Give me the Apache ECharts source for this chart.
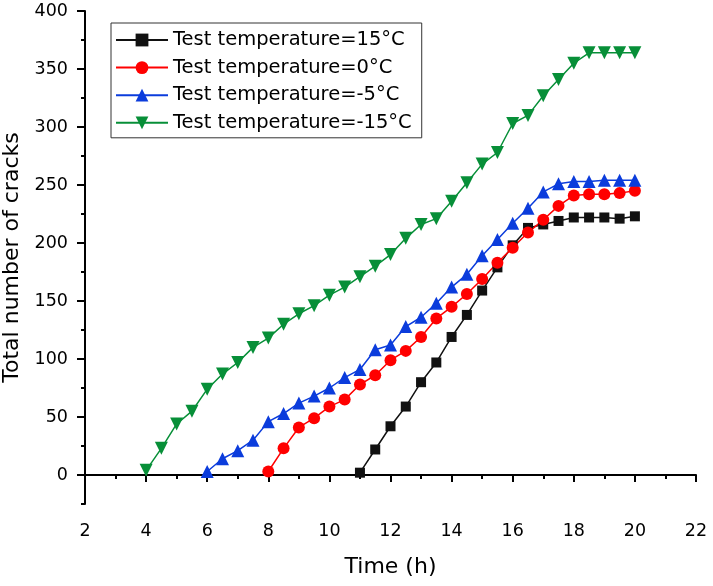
<!DOCTYPE html>
<html>
<head>
<meta charset="utf-8">
<script src="https://cdn.jsdelivr.net/npm/echarts@6/dist/echarts.min.js"></script>
<style>
html, body { margin: 0; padding: 0; background: #fff; }
#main { width: 713px; height: 586px; }
</style>
</head>
<body>
<div id="main"></div>
<script>
// time axis (h), one reading every half hour
var hours = [4, 4.5, 5, 5.5, 6, 6.5, 7, 7.5, 8, 8.5, 9, 9.5, 10, 10.5, 11, 11.5, 12,
	12.5, 13, 13.5, 14, 14.5, 15, 15.5, 16, 16.5, 17, 17.5, 18, 18.5, 19, 19.5, 20];
// crack counts per test temperature (null = not started yet)
var t15 = [null, null, null, null, null, null, null, null, null, null, null, null, null, null,
	2, 22, 42, 59, 80, 97, 119, 138, 159, 179, 198, 213, 216, 219, 222, 222, 222, 221, 223];
var t0 = [null, null, null, null, null, null, null, null,
	3, 23, 41, 49, 59, 65, 78, 86, 99, 107, 119, 135, 145, 156, 169, 183, 196, 209, 220, 232, 241, 242, 242, 243, 245];
var tm5 = [null, null, null, null,
	3, 14, 21, 30, 46, 53, 62, 68, 75, 84, 91, 108, 112, 128, 136, 148, 162, 173, 189, 203, 217, 230, 244, 251, 253, 253, 254, 254, 254];
var tm15 = [4, 23, 44, 55, 74, 87, 97, 110, 118, 130, 139, 146, 155, 162, 171, 180, 190, 204, 216, 221, 236, 252,
	268, 278, 303, 310, 327, 341, 355, 364, 364, 364, 364];
var names = ['Test temperature=15°C', 'Test temperature=0°C', 'Test temperature=-5°C', 'Test temperature=-15°C'];
var yTicks = [0, 50, 100, 150, 200, 250, 300, 350, 400];
var yMinor = [-25, 25, 75, 125, 175, 225, 275, 325, 375];

var font = 'DejaVu Sans';

function pairs(vals) {
	var out = [];
	for (var i = 0; i < hours.length; i++) {
		if (vals[i] != null) out.push([hours[i], vals[i]]);
	}
	return out;
}

function line(name, vals, color, symbol, size, rotate) {
	return {
		name: name,
		type: 'line',
		data: pairs(vals),
		symbol: symbol,
		symbolSize: size,
		symbolRotate: rotate || 0,
		showSymbol: true,
		itemStyle: { color: color },
		lineStyle: { color: color, width: 1.5 },
		emphasis: { disabled: true },
		animation: false
	};
}

var myChart = echarts.init(document.getElementById('main'));
var option = {
	backgroundColor: '#fff',
	textStyle: { fontFamily: font },
	grid: { left: 85, right: 17, top: 11, bottom: 82, containLabel: false, outerBoundsMode: 'none' },
	legend: {
		orient: 'vertical',
		left: 111,
		top: 23,
		padding: [7, 10, 5, 4],
		itemGap: 7.6,
		itemWidth: 52,
		itemHeight: 16,
		borderColor: '#333',
		borderWidth: 1,
		textStyle: { fontFamily: font, fontSize: 19.5, color: '#000', lineHeight: 20 },
		data: names
	},
	xAxis: {
		type: 'value',
		min: 2,
		max: 22,
		interval: 2,
		name: 'Time (h)',
		nameLocation: 'middle',
		nameGap: 52,
		nameTextStyle: { fontFamily: font, fontSize: 22, color: '#000' },
		axisLine: { lineStyle: { color: '#000', width: 2 } },
		axisTick: { length: 7, lineStyle: { color: '#000', width: 2 } },
		minorTick: { show: true, splitNumber: 2, length: 4, lineStyle: { color: '#000', width: 2 } },
		axisLabel: { fontFamily: font, fontSize: 17.5, color: '#000', margin: 18 },
		splitLine: { show: false }
	},
	yAxis: [{
		type: 'value',
		min: -25,
		max: 400,
		name: 'Total number of cracks',
		nameLocation: 'middle',
		nameGap: 62,
		nameTextStyle: { fontFamily: font, fontSize: 22, color: '#000' },
		axisLine: { show: true, lineStyle: { color: '#000', width: 2 } },
		axisTick: { show: true, length: 8, customValues: yTicks, lineStyle: { color: '#000', width: 2 } },
		axisLabel: { fontFamily: font, fontSize: 17.5, color: '#000', margin: 17, customValues: yTicks },
		splitLine: { show: false }
	}, {
		// minor ticks of the y axis
		type: 'value',
		position: 'left',
		offset: 0,
		min: -25,
		max: 400,
		axisLine: { show: false },
		axisTick: { show: true, length: 4, customValues: yMinor, lineStyle: { color: '#000', width: 2 } },
		axisLabel: { show: false },
		splitLine: { show: false }
	}],
	series: [
		line(names[0], t15, '#111111', 'rect', 10),
		line(names[1], t0, '#ff0000', 'circle', 12),
		line(names[2], tm5, '#0b3cdc', 'triangle', 13),
		line(names[3], tm15, '#078f38', 'triangle', 13, 180)
	]
};
myChart.setOption(option);
</script>
</body>
</html>
